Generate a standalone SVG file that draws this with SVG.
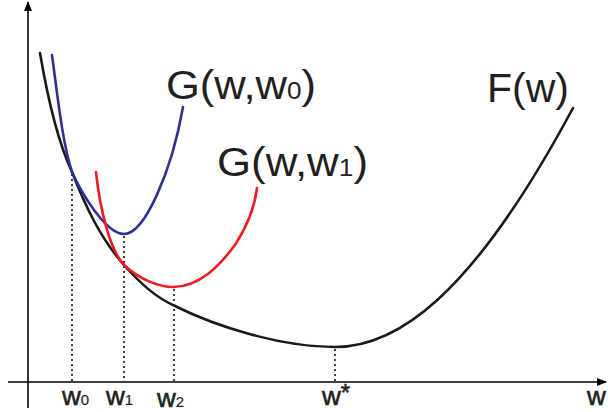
<svg xmlns="http://www.w3.org/2000/svg" width="608" height="412" viewBox="0 0 608 412">
<style>
text{font-family:"Liberation Sans",Arial,sans-serif;fill:#231f20}
.big{font-size:40px}
.lab{font-size:26px;stroke:#231f20;stroke-width:0.6}
.axis{stroke:#000;stroke-width:1.6;fill:none}
.dot{stroke:#000;stroke-width:1.5;stroke-dasharray:2,3;fill:none}
.crv{stroke-width:2.6;fill:none;stroke-linecap:round}
</style>
<defs>
<marker id="ah" markerWidth="10" markerHeight="8" refX="9" refY="4" orient="auto" markerUnits="userSpaceOnUse">
<path d="M0,0 L10,4 L0,8 Z" fill="#000"/>
</marker>
</defs>
<g id="axes">
<line class="axis" x1="8" y1="382" x2="606" y2="382" marker-end="url(#ah)"/>
<line class="axis" x1="28" y1="408" x2="28" y2="2" marker-end="url(#ah)"/>
</g>
<g id="guides">
<line class="dot" x1="72" y1="174" x2="72" y2="381"/>
<line class="dot" x1="124" y1="236" x2="124" y2="381"/>
<line class="dot" x1="174" y1="289" x2="174" y2="381"/>
<line class="dot" x1="335" y1="349" x2="335" y2="381"/>
</g>
<g id="F">
<path class="crv" stroke="#1a1a1a" d="M40,53 C48,100 58,142 72,172 C85,205 100,238 124,265 C140,283 155,297 175,306 C215,326 280,347 335,347 C395,347 470,300 573,108"/>
<text class="big" x="487" y="102" textLength="82" lengthAdjust="spacingAndGlyphs">F(w)</text>
</g>
<g id="G0">
<path class="crv" stroke="#2e3192" d="M52,55 C58,100 63,145 72,172 C80,190 105,234 124,234 C145,234 172,170 183,107"/>
<text class="big" x="166" y="99" textLength="150" lengthAdjust="spacingAndGlyphs">G(w,w<tspan font-size="24px">0</tspan>)</text>
</g>
<g id="G1">
<path class="crv" stroke="#ed1c24" d="M96,172 C100,210 110,250 124,265 C140,280 160,287 173,287 C200,287 220,265 235,245 C248,225 255,205 257,188"/>
<text class="big" x="217" y="176" textLength="151" lengthAdjust="spacingAndGlyphs">G(w,w<tspan font-size="24px">1</tspan>)</text>
</g>
<g id="labels">
<text class="lab" x="62" y="405">w<tspan font-size="15px" stroke-width="0.2">0</tspan></text>
<text class="lab" x="106" y="405">w<tspan font-size="15px" stroke-width="0.2">1</tspan></text>
<text class="lab" x="157" y="407">w<tspan font-size="15px" stroke-width="0.2">2</tspan></text>
<text class="lab" x="322" y="405">w<tspan dy="-4" font-size="24px">*</tspan></text>
<text class="lab" x="587" y="405">w</text>
</g>
</svg>
